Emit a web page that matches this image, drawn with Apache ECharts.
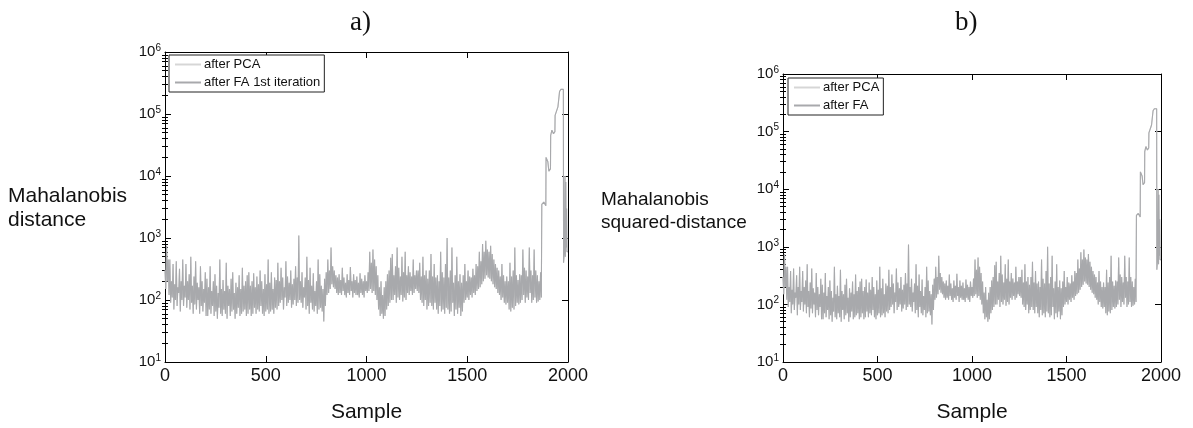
<!DOCTYPE html>
<html>
<head>
<meta charset="utf-8">
<title>Mahalanobis distance</title>
<script src="https://cdn.jsdelivr.net/npm/echarts@6/dist/echarts.min.js"></script>
<style>
  html, body { margin: 0; padding: 0; background: #fff; }
  #chart { width: 1193px; height: 428px; }
</style>
</head>
<body>
<div id="chart"></div>
<script>
// noisy band: one peak and one trough per 8 samples, 0 .. 1864
var bandStep = 8;
var bandHigh = [
    300, 750, 450,
    450, 200, 380, 180, 420, 160, 320, 200, 450, 170,
    380, 200, 260, 500, 170, 240, 420, 190, 160, 350, 200, 150, 280,
    220, 160, 350, 140, 200, 260, 170, 130, 450, 150, 210, 140, 400, 170, 150, 220, 280, 130, 190, 160, 250, 150, 330, 170, 200,
    250, 280, 170, 200, 270, 160, 240, 180, 300, 200, 150, 260, 180, 450, 190, 280, 150, 230, 210,
    400, 200, 330, 230, 160, 420, 240, 190, 300, 180, 220, 350, 230,
    1100,
    200, 280, 160, 230, 500, 210, 330, 170, 270, 140, 200, 450, 260, 170, 150, 220,
    280, 450, 300, 700, 350, 300, 250, 230,
    260, 210, 330, 230, 190, 260, 210, 340, 200, 260, 210, 240, 190, 270, 220, 200, 250, 200,
    280, 600, 400, 650, 450, 350,
    250, 160, 200, 120, 160, 200, 260, 300, 480,
    550, 250, 350, 700, 330, 240, 500, 280, 600, 250, 350, 280, 240, 450, 250, 300,
    300, 400, 240, 500, 250, 300, 220, 300, 550, 240, 380, 230,
    250, 200, 600, 280, 230, 380, 1000, 230, 300, 700, 190, 250, 500, 200, 260, 190,
    250, 380, 200, 300, 240, 230, 320, 250, 380,
    350, 600, 420, 800, 600, 900, 650, 600, 750, 550, 450, 380, 330,
    300, 240, 380, 250, 200, 240,
    200, 400, 240, 300, 700, 250, 210, 260,
    250, 650, 330, 300, 240, 700, 300, 250, 650, 300, 250, 200, 280
];
var bandLow = [
    150, 200, 120,
    90, 110, 70, 100, 80, 130, 65, 100, 80, 110,
    75, 100, 70, 90, 60, 85, 70, 100, 60, 80, 65, 90, 55,
    55, 70, 60, 80, 55, 65, 50, 75, 60, 55, 70, 60, 50, 80, 55, 65, 70, 50, 60, 75, 55, 60, 65, 70, 55,
    60, 70, 55, 60, 75, 60, 70, 65, 80, 60, 55, 65, 70, 60, 65, 70, 60, 75, 70,
    80, 90, 100, 70, 110, 80, 90, 100, 75, 85, 100, 80, 90,
    100,
    90, 75, 110, 70, 80, 60, 90, 70, 65, 80, 60, 70, 75, 65, 45, 80,
    120, 130, 150, 180, 160, 150, 130, 120,
    130, 120, 140, 120, 110, 130, 120, 140, 110, 130, 120, 120, 110, 130, 120, 110, 140, 130,
    140, 150, 130, 140, 120, 100,
    70, 55, 60, 50, 55, 70, 80, 90, 100,
    100, 120, 90, 110, 100, 120, 95, 110, 100, 130, 120, 140, 120, 130, 150, 140,
    130, 100, 90, 80, 100, 70, 80, 90, 80, 70, 90, 70,
    60, 80, 65, 70, 60, 75, 70, 60, 65, 90, 55, 70, 60, 75, 55, 65,
    90, 100, 110, 100, 120, 110, 130, 120, 140,
    150, 160, 180, 200, 220, 250, 230, 220, 200, 180, 160, 150, 130,
    120, 100, 110, 90, 85, 90,
    70, 65, 75, 70, 80, 90, 85, 90,
    100, 120, 90, 110, 100, 130, 90, 100, 110, 90, 95, 100, 110
];
// the outlier run at the end
var tailX = [1868, 1870, 1880, 1890, 1891, 1900, 1905, 1913, 1914, 1920, 1928, 1935, 1936, 1945, 1950, 1957,
    1958, 1965, 1972, 1977, 1978, 1982, 1985, 1987, 1989, 1991, 1993, 1995, 2000];
var tailY = [200, 3500, 3800, 3300, 20000, 17000, 12000, 13000, 45000, 55000, 48000, 52000, 95000, 100000, 130000, 125000,
    230000, 250000, 240000, 250000, 400, 600, 10000, 500, 8000, 700, 3000, 600, 600];

var yTicks = [10, 100, 1000, 10000, 100000, 1000000];
var yMinorTicks = [];
for (var d = 10; d < 1000000; d *= 10) {
    for (var m = 2; m <= 9; m++) {
        yMinorTicks.push(d * m);
    }
}

var lineColor = '#a8a9ac';
var pcaColor = '#d6d6d6';
var font = 'Liberation Sans, Arial, Helvetica, sans-serif';
var serif = 'Liberation Serif, DejaVu Serif, serif';

function buildData() {
    var data = [];
    for (var i = 0; i < bandHigh.length; i++) {
        data.push([i * bandStep, bandHigh[i]]);
        data.push([i * bandStep + bandStep / 2, bandLow[i]]);
    }
    for (var j = 0; j < tailX.length; j++) {
        data.push([tailX[j], tailY[j]]);
    }
    return data;
}

function xAxes(gridIndex) {
    var base = {
        type: 'value', gridIndex: gridIndex, min: 0, max: 2000, interval: 500,
        axisLine: { show: true, onZero: false, lineStyle: { color: '#000', width: 1 } },
        axisTick: { show: true, inside: true, length: 6, lineStyle: { color: '#000' } },
        splitLine: { show: false }
    };
    var bottom = echarts.util.merge({
        position: 'bottom',
        axisLabel: {
            show: true, margin: 5, fontSize: 18, color: '#111', fontFamily: font,
            formatter: function (v) { return String(v); }
        },
        name: 'Sample', nameLocation: 'middle', nameGap: 40,
        nameTextStyle: { fontSize: 21, color: '#111', fontFamily: font }
    }, base, true);
    var top = echarts.util.merge({ position: 'top', axisLabel: { show: false } }, base, true);
    return [bottom, top];
}

function supLabel(v) {
    return '{b|10}{s|' + Math.round(Math.log(v) / Math.LN10) + '}';
}

function yAxes(gridIndex) {
    var list = [];
    var sides = ['left', 'right'];
    for (var k = 0; k < 2; k++) {
        list.push({
            type: 'log', logBase: 10, gridIndex: gridIndex, min: 10, max: 1000000, position: sides[k],
            axisLine: { show: true, onZero: false, lineStyle: { color: '#000', width: 1 } },
            axisTick: { show: true, inside: true, length: 6, customValues: yTicks, lineStyle: { color: '#000' } },
            axisLabel: {
                show: k === 0, margin: 4, customValues: yTicks, formatter: supLabel,
                rich: {
                    b: { fontSize: 15, color: '#111', fontFamily: font, lineHeight: 18 },
                    s: { fontSize: 10, color: '#111', fontFamily: font, lineHeight: 10, verticalAlign: 'top' }
                }
            },
            splitLine: { show: false }
        });
        list.push({
            type: 'log', logBase: 10, gridIndex: gridIndex, min: 10, max: 1000000, position: sides[k],
            axisLine: { show: false },
            axisTick: { show: true, inside: true, length: 3, customValues: yMinorTicks, lineStyle: { color: '#000' } },
            axisLabel: { show: false },
            splitLine: { show: false }
        });
    }
    return list;
}

function lineSeries(name, color, xi, yi, data, z) {
    return {
        name: name, type: 'line', xAxisIndex: xi, yAxisIndex: yi, data: data,
        showSymbol: false, symbol: 'none', z: z,
        lineStyle: { color: color, width: 1.1 }, itemStyle: { color: color },
        animation: false
    };
}

function legendAt(left, top, names) {
    return {
        data: names, left: left, top: top, orient: 'vertical',
        icon: 'rect', itemWidth: 26, itemHeight: 2, itemGap: 5,
        borderColor: '#222', borderWidth: 1, borderRadius: 0,
        padding: [3, 4, 3, 6], backgroundColor: '#fff',
        textStyle: { fontSize: 13, color: '#111', fontFamily: font, padding: [0, 0, 0, -2] },
        selectedMode: false
    };
}

var chart = echarts.init(document.getElementById('chart'), null, { renderer: 'canvas' });
var data = buildData();

var option = {
    animation: false,
    backgroundColor: '#fff',
    grid: [
        { left: 165, top: 52, width: 403, height: 316 },
        { left: 783, top: 74, width: 378, height: 298 }
    ],
    xAxis: xAxes(0).concat(xAxes(1)),
    yAxis: yAxes(0).concat(yAxes(1)),
    legend: [
        legendAt(169, 55, ['after PCA', 'after FA 1st iteration']),
        legendAt(788, 78, ['after PCA', 'after FA'])
    ],
    series: [
        lineSeries('after PCA', pcaColor, 0, 0, data, 2),
        lineSeries('after FA 1st iteration', lineColor, 0, 0, data, 3),
        lineSeries('after PCA', pcaColor, 2, 4, data, 2),
        lineSeries('after FA', lineColor, 2, 4, data, 3)
    ],
    graphic: [
        { type: 'text', left: 350, top: 9, style: { text: 'a)', fontSize: 27, fill: '#111', fontFamily: serif } },
        { type: 'text', left: 955, top: 9, style: { text: 'b)', fontSize: 27, fill: '#111', fontFamily: serif } },
        { type: 'text', left: 8, top: 184, style: { text: 'Mahalanobis\ndistance', fontSize: 21, lineHeight: 24, fill: '#111', fontFamily: font } },
        { type: 'text', left: 601, top: 188, style: { text: 'Mahalanobis\nsquared-distance', fontSize: 19, lineHeight: 23, fill: '#111', fontFamily: font } }
    ]
};
chart.setOption(option);
</script>
</body>
</html>
